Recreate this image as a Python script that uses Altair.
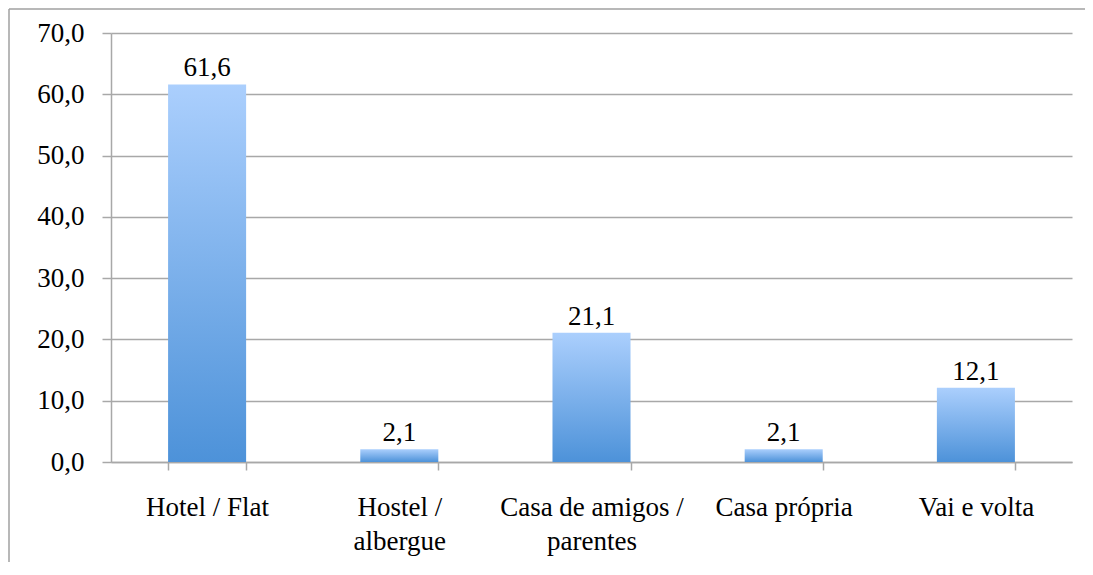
import altair as alt
import pandas as pd

categories = ["Hotel / Flat", "Hostel /\nalbergue", "Casa de amigos /\nparentes", "Casa própria", "Vai e volta"]
values = [61.6, 2.1, 21.1, 2.1, 12.1]
y_ticks = [0, 10, 20, 30, 40, 50, 60, 70]

df = pd.DataFrame({"cat": categories, "val": values})

FONT = "Liberation Serif"
FS = 27
GRAY = "#a8a8a8"

x_enc = alt.X("cat:N", sort=categories, title=None,
              scale=alt.Scale(paddingInner=0.594, paddingOuter=0.297),
              axis=alt.Axis(labelAngle=0, labelExpr="split(datum.label, '\\n')",
                            labelLineHeight=34, labelPadding=24, tickSize=8,
                            tickBand="extent", domainColor=GRAY, tickColor=GRAY,
                            domainWidth=1.5, tickWidth=1.5, labelBaseline="top",
                            labelLimit=400, grid=False))
y_enc = alt.Y("val:Q", title=None,
              scale=alt.Scale(domain=[0, 70], nice=False),
              axis=alt.Axis(values=y_ticks,
                            labelExpr="replace(format(datum.value, '.1f'), '.', ',')",
                            tickSize=9, labelPadding=18, grid=True, gridColor=GRAY,
                            gridWidth=1.5, domainColor=GRAY, tickColor=GRAY,
                            domainWidth=1.5, tickWidth=1.5))

grad = alt.Gradient(gradient="linear", x1=0, y1=0, x2=0, y2=1,
                    stops=[alt.GradientStop(color="#abcffd", offset=0),
                           alt.GradientStop(color="#4d92d9", offset=1)])

base = alt.Chart(df)
bars = base.mark_bar(color=grad).encode(x=x_enc, y=y_enc)
labels = base.transform_calculate(
    lbl="replace(format(datum.val, '.1f'), '.', ',')"
).mark_text(font=FONT, fontSize=FS, baseline="alphabetic", dy=-8, color="black").encode(
    x=alt.X("cat:N", sort=categories), y="val:Q", text="lbl:N")

one = pd.DataFrame({"a": [0]})
border_top = alt.Chart(one).mark_rule(color="#a0a0a0", strokeWidth=1.5).encode(
    x=alt.value(-102), x2=alt.value(974), y=alt.value(-24))
border_left = alt.Chart(one).mark_rule(color="#a0a0a0", strokeWidth=1.5).encode(
    x=alt.value(-102), y=alt.value(-24), y2=alt.value(529))

chart = alt.layer(bars, labels, border_top, border_left).properties(
    width=961, height=429,
    autosize=alt.AutoSizeParams(type="none"),
    padding={"left": 103, "top": 25, "right": 13, "bottom": 100},
).configure_view(stroke=None).configure_axis(
    labelFont=FONT, labelFontSize=FS, labelColor="black"
)

chart.save("out.html", embed_options={"renderer": "svg", "actions": False})
